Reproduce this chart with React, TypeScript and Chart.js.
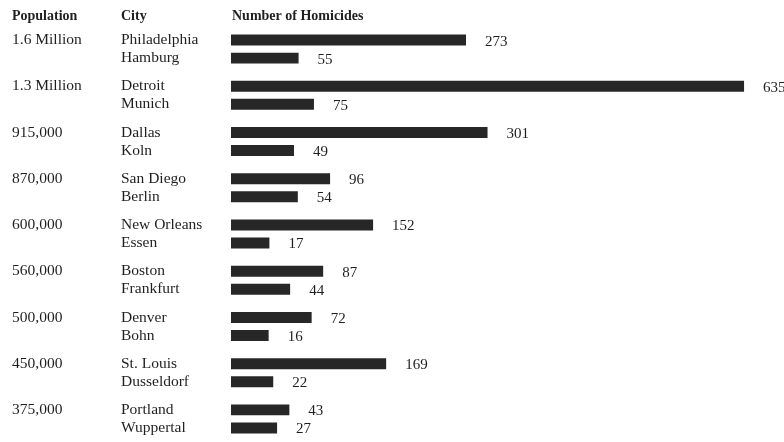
import React, { useEffect, useRef } from "react";
import { Chart, registerables } from "chart.js";

Chart.register(...registerables);

const populations = ["1.6 Million", "1.3 Million", "915,000", "870,000", "600,000", "560,000", "500,000", "450,000", "375,000"];
const usCities = ["Philadelphia", "Detroit", "Dallas", "San Diego", "New Orleans", "Boston", "Denver", "St. Louis", "Portland"];
const usHomicides = [273, 635, 301, 96, 152, 87, 72, 169, 43];
const germanCities = ["Hamburg", "Munich", "Koln", "Berlin", "Essen", "Frankfurt", "Bohn", "Dusseldorf", "Wuppertal"];
const germanHomicides = [55, 75, 49, 54, 17, 44, 16, 22, 27];
const headers = ["Population", "City", "Number of Homicides"];

const X_MIN = -33;
const X_MAX = 687;
const FONT = "'Liberation Serif', 'Times New Roman', serif";
const INK = "#1f1f1f";
const BAR = "#272727";

export default function App() {
  const ref = useRef<HTMLCanvasElement | null>(null);

  useEffect(() => {
    document.body.style.margin = "0";
    const canvas = ref.current;
    if (!canvas) return;

    const overlay = {
      id: "overlay",
      afterDatasetsDraw(chart: any) {
        const ctx = chart.ctx;
        ctx.save();
        ctx.fillStyle = INK;
        ctx.font = `bold 14px ${FONT}`;
        ctx.textBaseline = "middle";
        ctx.textAlign = "left";
        const xs = [chart.scales.pop.left, chart.scales.y.left, chart.chartArea.left + 1];
        headers.forEach((h, i) => ctx.fillText(h, xs[i], 16));
        ctx.font = `15px ${FONT}`;
        const sets = [usHomicides, germanHomicides];
        sets.forEach((vals, di) => {
          const meta = chart.getDatasetMeta(di);
          meta.data.forEach((el: any, i: number) => {
            ctx.fillText(String(vals[i]), el.x + 19, el.y + 1.5);
          });
        });
        ctx.restore();
      },
    };

    const tickFont = { family: FONT, size: 15.5, lineHeight: 18 / 15.5 };

    const chart = new Chart(canvas, {
      type: "bar",
      data: {
        labels: usCities.map((c, i) => [c, germanCities[i]]),
        datasets: [
          {
            label: "U.S. city",
            data: usHomicides,
            base: X_MIN,
            backgroundColor: BAR,
            borderWidth: 0,
            categoryPercentage: 0.78,
            barPercentage: 0.61,
            yAxisID: "y",
          } as any,
          {
            label: "German city",
            data: germanHomicides,
            base: X_MIN,
            backgroundColor: BAR,
            borderWidth: 0,
            categoryPercentage: 0.78,
            barPercentage: 0.61,
            yAxisID: "y",
          } as any,
        ],
      },
      options: {
        indexAxis: "y",
        responsive: false,
        animation: false,
        layout: { padding: { left: 12, top: 26, right: 0, bottom: -2 } },
        plugins: {
          legend: { display: false },
          tooltip: { enabled: false },
          title: { display: false },
        },
        scales: {
          x: {
            type: "linear",
            display: false,
            min: X_MIN,
            max: X_MAX,
          },
          pop: {
            type: "category",
            position: "left",
            weight: 2,
            labels: populations.map((p) => [p, ""]),
            grid: { display: false, drawTicks: false },
            border: { display: false },
            ticks: {
              autoSkip: false,
              crossAlign: "far",
              padding: 0,
              color: INK,
              font: tickFont,
            },
            afterFit: (s: any) => {
              s.width = 109;
              s.paddingTop = 0;
              s.paddingBottom = 0;
            },
          } as any,
          y: {
            type: "category",
            position: "left",
            weight: 1,
            grid: { display: false, drawTicks: false },
            border: { display: false },
            ticks: {
              autoSkip: false,
              crossAlign: "far",
              padding: 0,
              color: INK,
              font: tickFont,
            },
            afterFit: (s: any) => {
              s.width = 110;
              s.paddingTop = 0;
              s.paddingBottom = 0;
            },
          } as any,
        },
      },
      plugins: [overlay],
    });

    return () => chart.destroy();
  }, []);

  return (
    <div style={{ width: 784, height: 442, background: "#fff", overflow: "hidden" }}>
      <canvas ref={ref} width={784} height={442} style={{ display: "block" }} />
    </div>
  );
}
